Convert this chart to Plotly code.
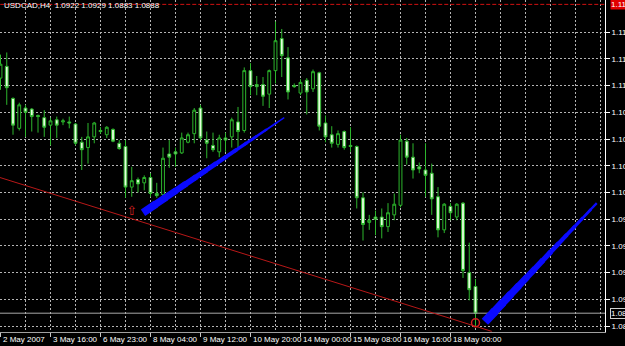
import plotly.graph_objects as go
import numpy as np

# ---------------- data ----------------
bars = list(range(77))
opens = [1.1117, 1.1128, 1.1098, 1.1070, 1.1089, 1.1088, 1.1082, 1.1080, 1.1073, 1.1078,
         1.1076, 1.1076, 1.1074, 1.1057, 1.1052, 1.1062, 1.1068, 1.1064, 1.1069, 1.1056,
         1.1053, 1.1015, 1.1022, 1.1019, 1.1024, 1.1009, 1.1008, 1.1046, 1.1048, 1.1047,
         1.1057, 1.1065, 1.1089, 1.1059, 1.1054, 1.1048, 1.1061, 1.1062, 1.1076, 1.1068,
         1.1124, 1.1111, 1.1111, 1.1102, 1.1124, 1.1154, 1.1136, 1.1110, 1.1103, 1.1115,
         1.1107, 1.1122, 1.1075, 1.1064, 1.1055, 1.1067, 1.1054, 1.1053, 1.1005, 1.0982,
         1.0987, 1.0987, 1.0978, 1.0989, 1.0998, 1.1058, 1.1043, 1.1034, 1.1031, 1.1028,
         1.1006, 1.0975, 1.0997, 1.0987, 1.1000, 1.0935, 1.0922]
highs = [1.1139, 1.1141, 1.1099, 1.1094, 1.1092, 1.1089, 1.1083, 1.1087, 1.1080, 1.1081,
         1.1079, 1.1081, 1.1075, 1.1062, 1.1075, 1.1076, 1.1071, 1.1072, 1.1070, 1.1059,
         1.1059, 1.1034, 1.1024, 1.1026, 1.1028, 1.1019, 1.1052, 1.1059, 1.1052, 1.1066,
         1.1066, 1.1089, 1.1092, 1.1067, 1.1066, 1.1064, 1.1066, 1.1080, 1.1090, 1.1127,
         1.1131, 1.1119, 1.1118, 1.1125, 1.1170, 1.1163, 1.1146, 1.1112, 1.1116, 1.1117,
         1.1125, 1.1123, 1.1082, 1.1072, 1.1068, 1.1068, 1.1071, 1.1054, 1.1010, 1.0989,
         1.0993, 1.0995, 1.1000, 1.1009, 1.1064, 1.1061, 1.1056, 1.1038, 1.1056, 1.1037,
         1.1015, 1.1000, 1.1000, 1.1000, 1.1001, 1.0963, 1.0929]
lows = [1.1106, 1.1092, 1.1064, 1.1068, 1.1062, 1.1067, 1.1066, 1.1062, 1.1054, 1.1061,
        1.1073, 1.1070, 1.1054, 1.1031, 1.1037, 1.1056, 1.1065, 1.1061, 1.1057, 1.1050,
        1.1005, 1.1006, 1.1010, 1.1012, 1.1006, 1.1005, 1.1006, 1.1033, 1.1034, 1.1046,
        1.1056, 1.1056, 1.1059, 1.1042, 1.1048, 1.1043, 1.1048, 1.1052, 1.1052, 1.1066,
        1.1101, 1.1101, 1.1091, 1.1089, 1.1112, 1.1118, 1.1097, 1.1108, 1.1101, 1.1083,
        1.1104, 1.1068, 1.1057, 1.1052, 1.1052, 1.1050, 1.1048, 1.0995, 1.0965, 1.0975,
        1.0970, 1.0967, 1.0973, 1.0984, 1.0996, 1.1036, 1.1023, 1.1028, 1.1006, 1.0989,
        1.0968, 1.0972, 1.0984, 1.0984, 1.0930, 1.0909, 1.0884]
closes = [1.1130, 1.1108, 1.1073, 1.1092, 1.1085, 1.1081, 1.1081, 1.1071, 1.1077, 1.1073,
          1.1077, 1.1075, 1.1056, 1.1050, 1.1062, 1.1075, 1.1067, 1.1071, 1.1058, 1.1051,
          1.1015, 1.1021, 1.1018, 1.1024, 1.1009, 1.1007, 1.1042, 1.1043, 1.1046, 1.1061,
          1.1064, 1.1087, 1.1061, 1.1056, 1.1050, 1.1061, 1.1059, 1.1078, 1.1067, 1.1124,
          1.1109, 1.1109, 1.1100, 1.1124, 1.1152, 1.1138, 1.1104, 1.1109, 1.1113, 1.1104,
          1.1123, 1.1072, 1.1062, 1.1056, 1.1065, 1.1052, 1.1053, 1.1005, 1.0980, 1.0984,
          1.0985, 1.0978, 1.0991, 1.0999, 1.1059, 1.1043, 1.1031, 1.1032, 1.1026, 1.1004,
          1.0975, 1.0999, 1.0991, 1.0999, 1.0937, 1.0919, 1.0897]

tick_bars = [0, 8, 16, 24, 32, 40, 48, 56, 64, 72]
tick_labels = ["2 May 2007", "3 May 16:00", "6 May 23:00", "8 May 04:00", "9 May 12:00",
               "10 May 20:00", "14 May 00:00", "15 May 08:00", "16 May 16:00", "18 May 00:00"]

price_ticks = [1.0885, 1.0910, 1.0935, 1.0960, 1.0985, 1.1010,
               1.1035, 1.1060, 1.1085, 1.1110, 1.1135, 1.1160]
price_tick_labels = ["1.0885", "1.0910", "1.0935", "1.0960", "1.0985", "1.1010",
                     "1.1035", "1.1060", "1.1085", "1.1110", "1.1135", "1.1160"]

title_text = "USDCAD,H4  1.0922 1.0929 1.0883 1.0888"

# drawn objects (bar index, price)
trend_bars = [-0.1, 78.6]
trend_prices = [1.1024, 1.0880]
blue1_bars = [22.8, 45.4]
blue1_prices = [1.0991, 1.1080]
blue2_bars = [77.5, 95.4]
blue2_prices = [1.0889, 1.1000]
arrow_bar = [21]
arrow_price = [1.0992]
stop_bar = [76]
stop_price = [1.0888]
top_line_price = 1.1186
bid_price = 1.0897

# ---------------- figure ----------------
GREEN = "#2cb52c"
fig = go.Figure()

fig.add_trace(go.Candlestick(
    x=bars, open=opens, high=highs, low=lows, close=closes,
    increasing=dict(line=dict(color=GREEN, width=1), fillcolor="#000000"),
    decreasing=dict(line=dict(color=GREEN, width=1), fillcolor="#e4ffdc"),
    whiskerwidth=0, hoverinfo="skip", showlegend=False,
))

# horizontal lines
fig.add_trace(go.Scatter(x=[-1, 100], y=[top_line_price, top_line_price], mode="lines",
                         line=dict(color="#d01010", width=1, dash="4px,2px"),
                         hoverinfo="skip", showlegend=False))
fig.add_trace(go.Scatter(x=[-1, 100], y=[bid_price, bid_price], mode="lines",
                         line=dict(color="#a8a8a8", width=1),
                         hoverinfo="skip", showlegend=False))

# red trendline
fig.add_trace(go.Scatter(x=trend_bars, y=trend_prices, mode="lines",
                         line=dict(color="#b81818", width=1),
                         hoverinfo="skip", showlegend=False))


def tapered(xs, ys, w0, w1, n=14):
    t = np.linspace(0, 1, n + 1)
    for k in range(n):
        ta, tb = t[k], min(t[k + 1] + 0.02, 1)
        xa = xs[0] + (xs[1] - xs[0]) * ta
        xb = xs[0] + (xs[1] - xs[0]) * tb
        ya = ys[0] + (ys[1] - ys[0]) * ta
        yb = ys[0] + (ys[1] - ys[0]) * tb
        w = w0 + (w1 - w0) * (k + 0.5) / n
        fig.add_trace(go.Scatter(x=[xa, xb], y=[ya, yb], mode="lines",
                                 line=dict(color="#0a0aff", width=w),
                                 hoverinfo="skip", showlegend=False))


tapered(blue1_bars, blue1_prices, 8, 1.2)
tapered(blue2_bars, blue2_prices, 9, 2)

# arrow and stop symbols
fig.add_trace(go.Scatter(x=arrow_bar, y=arrow_price, mode="text", text=["⇧"],
                         textfont=dict(color="#d42020", size=13, family="DejaVu Sans"),
                         hoverinfo="skip", showlegend=False))
fig.add_trace(go.Scatter(x=stop_bar, y=stop_price, mode="markers",
                         marker=dict(symbol="circle-open", size=8,
                                     line=dict(color="#d42020", width=1.5), color="#d42020"),
                         hoverinfo="skip", showlegend=False))

FONT = "Liberation Sans"
GRID = "#b4b4b4"

fig.update_layout(
    width=625, height=346,
    margin=dict(l=0, r=20, t=0, b=14),
    paper_bgcolor="#000000", plot_bgcolor="#000000",
    showlegend=False, boxgap=0.35,
    font=dict(family=FONT, size=8, color="#ffffff"),
    xaxis=dict(
        range=[-0.08, 96.72], tickmode="array", tickvals=tick_bars, ticktext=tick_labels,
        showticklabels=False,
        ticks="outside", ticklen=4, tickcolor="#c8c8c8",
        showgrid=True, gridcolor=GRID, griddash="2px,2px", gridwidth=1,
        minor=dict(tick0=0, dtick=4, showgrid=True, gridcolor=GRID, griddash="2px,2px",
                   gridwidth=1),
        showline=True, linecolor="#a0a0a0", linewidth=1, zeroline=False,
        rangeslider=dict(visible=False), automargin=False, fixedrange=True,
    ),
    yaxis=dict(
        range=[1.08794, 1.11901], side="right", tickmode="array",
        tickvals=price_ticks, ticktext=price_tick_labels,
        ticks="outside", ticklen=4, tickcolor="#ffffff", ticklabeloverflow="allow",
        tickfont=dict(family=FONT, size=8, color="#ffffff"),
        showgrid=True, gridcolor=GRID, griddash="2px,2px", gridwidth=1,
        showline=True, linecolor="#ffffff", linewidth=1, zeroline=False,
        automargin=False, fixedrange=True,
    ),
)

# time labels, left-aligned to their tick like the terminal draws them
for tb, tl in zip(tick_bars, tick_labels):
    fig.add_annotation(text=tl, xref="x", yref="paper", x=tb, y=0,
                       xanchor="left", yanchor="top", xshift=1, yshift=-2,
                       showarrow=False, borderpad=0,
                       font=dict(family=FONT, size=8, color="#ffffff"))

fig.add_annotation(text=title_text, xref="paper", yref="paper", x=0.003, y=1.0,
                   xanchor="left", yanchor="top", showarrow=False, yshift=1,
                   font=dict(family=FONT, size=8, color="#ffffff"))
fig.add_annotation(text=f"{top_line_price:.4f}", xref="paper", yref="y", x=1.0, y=top_line_price,
                   xanchor="left", yanchor="middle", xshift=5, showarrow=False,
                   bgcolor="#e00000", borderpad=0,
                   font=dict(family=FONT, size=8, color="#ffffff"))
fig.add_annotation(text=f"{bid_price:.4f}", xref="paper", yref="y", x=1.0, y=bid_price,
                   xanchor="left", yanchor="middle", xshift=5, showarrow=False,
                   bgcolor="#000000", bordercolor="#d0d0d0", borderwidth=1, borderpad=0,
                   font=dict(family=FONT, size=8, color="#ffffff"))

fig.write_html("out.html")
